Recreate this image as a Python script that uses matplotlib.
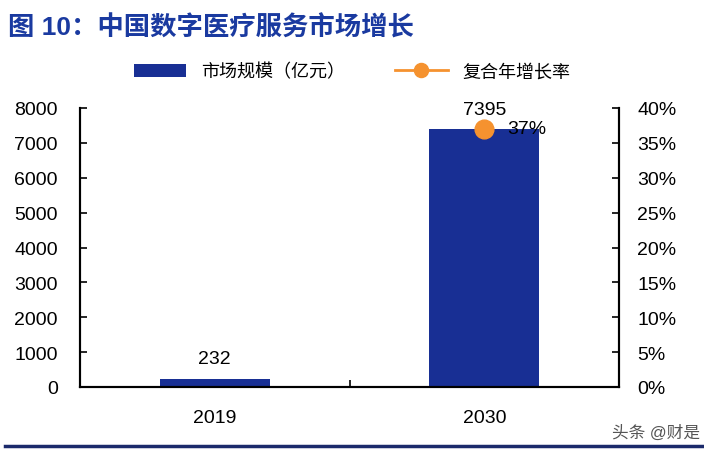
import numpy as np
import matplotlib.pyplot as plt
from matplotlib.ticker import FuncFormatter

plt.rcParams['font.family'] = ['Liberation Sans', 'Noto Sans CJK SC']

years = ['2019', '2030']
market = [232, 7395]
cagr = [np.nan, 0.37]
bar_labels = ['232', '7395']
cagr_labels = ['', '37%']

navy = '#182f94'
orange = '#f5922f'

fig = plt.figure(figsize=(7.04, 4.6), dpi=100)
ax = fig.add_axes([80 / 704, 1 - 388 / 460, 539 / 704, 279 / 460])
ax2 = ax.twinx()

x = np.arange(len(years))
bars = ax.bar(x, market, width=0.41, color=navy, label='市场规模（亿元）', zorder=2)
for xi, v, t in zip(x, market, bar_labels):
    ax.text(xi, v + 330, t, ha='center', va='bottom', fontsize=14)

ax2.plot(x, cagr, color=orange, lw=2, marker='o', markersize=13.5,
         label='复合年增长率', zorder=3)
for xi, v, t in zip(x, cagr, cagr_labels):
    if t:
        ax2.text(xi + 0.085, v, t, ha='left', va='center', fontsize=14)

ax.set_xlim(-0.5, 1.5)
ax.set_ylim(0, 8000)
ax2.set_ylim(0, 0.4)
ax.set_yticks(np.arange(0, 8001, 1000))
ax2.set_yticks(np.arange(0, 0.401, 0.05))
ax2.yaxis.set_major_formatter(FuncFormatter(lambda v, p: f'{v * 100:.0f}%'))

ax.set_xticks(x)
ax.set_xticklabels(years)
ax.set_xticks([0.5], minor=True)
ax.tick_params(axis='x', which='major', length=0, pad=16, labelsize=14)
ax.tick_params(axis='x', which='minor', direction='in', length=5, width=1.2)
ax.tick_params(axis='y', direction='in', length=5, width=1.2, labelsize=14, pad=16)
ax2.tick_params(axis='y', direction='in', length=5, width=1.2, labelsize=14, pad=13)

for a in (ax, ax2):
    a.spines['top'].set_visible(False)
    for s in ('left', 'right', 'bottom'):
        a.spines[s].set_linewidth(1.5)

h1, l1 = ax.get_legend_handles_labels()
h2, l2 = ax2.get_legend_handles_labels()
fig.legend(h1 + h2, l1 + l2, loc='center', bbox_to_anchor=(352 / 704, 1 - 73 / 460),
           ncol=2, frameon=False, fontsize=13, handlelength=2.9, columnspacing=2.8,
           markerscale=0.75)

fig.text(8 / 704, 1 - 28 / 460, '图 10：中国数字医疗服务市场增长', fontsize=19,
         fontweight='bold', color='#1a3aa0', va='center', ha='left')
fig.text(700 / 704, 1 - 433 / 460, '头条 @财是', fontsize=12, color='#555555',
         ha='right', va='center')
fig.add_artist(plt.Line2D([5 / 704, 1], [1 - 447 / 460] * 2, color='#1b2a6b', lw=2.5))

fig.savefig('out.png', dpi=100)
